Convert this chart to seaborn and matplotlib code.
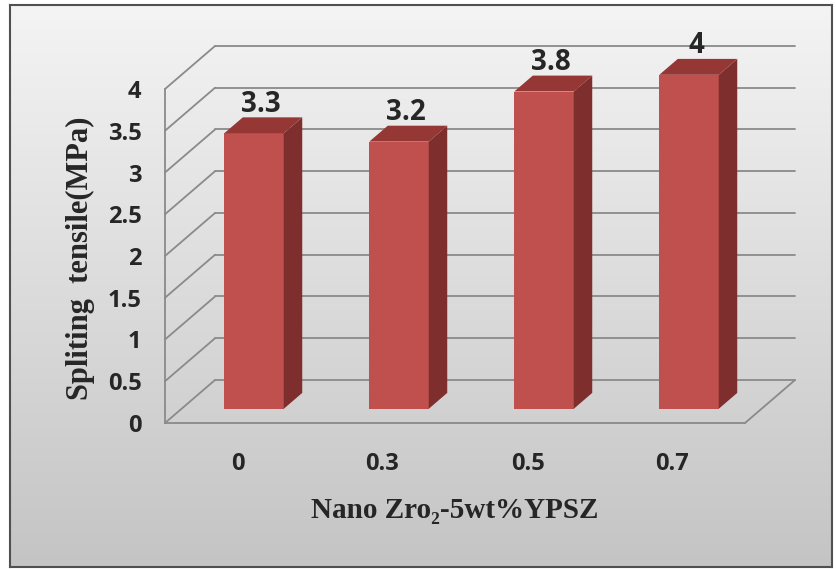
import numpy as np
import matplotlib
matplotlib.use("Agg")
import matplotlib.pyplot as plt
from matplotlib.patches import Polygon
from matplotlib.colors import LinearSegmentedColormap
import seaborn as sns

# data
categories = ["0", "0.3", "0.5", "0.7"]
values = [3.3, 3.2, 3.8, 4.0]
value_labels = ["3.3", "3.2", "3.8", "4"]
y_ticks = [0, 0.5, 1, 1.5, 2, 2.5, 3, 3.5, 4]
y_tick_labels = ["0", "0.5", "1", "1.5", "2", "2.5", "3", "3.5", "4"]

sns.set_style("white")
plt.rcParams["font.family"] = ["Open Sans", "DejaVu Sans"]

FRONT = "#c0504d"
SIDE = "#7e2f2d"
TOP = "#953735"
GRID = "#8a8a8a"

# fake 3D depth (full wall depth, in data units) and where the bars sit in it
DX, DY = 0.345, 0.515
F1, F2 = 0.33, 0.70

fig = plt.figure(figsize=(8.36, 5.69), dpi=100)

# gradient background with a frame
bg = fig.add_axes([10 / 836, 2 / 569, 822 / 836, 562 / 569], zorder=0)
grad = np.linspace(0, 1, 256).reshape(-1, 1)
cmap = LinearSegmentedColormap.from_list("bg", ["#f4f4f4", "#c4c4c4"])
bg.imshow(grad, aspect="auto", cmap=cmap, extent=[0, 1, 0, 1], origin="upper")
bg.set_xticks([])
bg.set_yticks([])
for s in bg.spines.values():
    s.set_color("#505050")
    s.set_linewidth(1.5)

ax = fig.add_axes([165 / 836, 146 / 569, 580 / 836, 334 / 569], zorder=1)
ax.set_facecolor("none")

# back wall, side wall and floor lines
for v in y_ticks:
    ax.plot([-0.5, -0.5 + DX], [v, v + DY], color=GRID, lw=1.3, clip_on=False, zorder=1)
    ax.plot([-0.5 + DX, 3.5 + DX], [v + DY, v + DY], color=GRID, lw=1.3, clip_on=False, zorder=1)
ax.plot([3.5, 3.5 + DX], [0, DY], color=GRID, lw=1.3, clip_on=False, zorder=1)

sns.barplot(x=categories, y=values, color=FRONT, saturation=1, width=0.41,
            ax=ax, zorder=3)

d = F2 - F1
for p, lab in zip(list(ax.patches), value_labels):
    p.set_x(p.get_x() + F1 * DX)
    p.set_y(p.get_y() + F1 * DY)
    p.set_linewidth(0)
    p.set_clip_on(False)
    x0, y0 = p.get_x(), p.get_y()
    x1, y1 = x0 + p.get_width(), y0 + p.get_height()
    side = Polygon([(x1, y0), (x1 + d * DX, y0 + d * DY),
                    (x1 + d * DX, y1 + d * DY), (x1, y1)],
                   closed=True, facecolor=SIDE, edgecolor="none", zorder=3, clip_on=False)
    top = Polygon([(x0, y1), (x0 + d * DX, y1 + d * DY),
                   (x1 + d * DX, y1 + d * DY), (x1, y1)],
                  closed=True, facecolor=TOP, edgecolor="none", zorder=3, clip_on=False)
    ax.add_patch(side)
    ax.add_patch(top)
    ax.annotate(lab, ((x0 + x1) / 2 + 0.05, y1 + d * DY), xytext=(0, -1),
                textcoords="offset points", ha="center", va="bottom",
                fontsize=20, fontweight="bold", annotation_clip=False)

ax.set_xlim(-0.5, 3.5)
ax.set_ylim(0, 4)
ax.set_yticks(y_ticks, y_tick_labels)
ax.set_xticks(range(len(categories)), categories)
ax.set_xticks(np.arange(-0.5, 4, 1), minor=True)
ax.tick_params(axis="x", which="major", length=0, pad=21, labelsize=17)
ax.tick_params(axis="x", which="minor", length=6, width=1.2, color=GRID, direction="out")
ax.tick_params(axis="y", length=6, width=1.2, color=GRID, direction="out", pad=11, labelsize=17)
for t in ax.get_xticklabels() + ax.get_yticklabels():
    t.set_fontweight("bold")
ax.set_xlabel("")
ax.set_ylabel("")
for side_name in ["top", "right"]:
    ax.spines[side_name].set_visible(False)
for side_name in ["left", "bottom"]:
    ax.spines[side_name].set_color(GRID)
    ax.spines[side_name].set_linewidth(1.3)

fig.text(80 / 836, 1 - 258 / 569, "Spliting  tensile(MPa)", rotation=90,
         ha="center", va="center", fontsize=22, fontweight="bold",
         family=["Liberation Serif", "DejaVu Serif"])
fig.text(455 / 836, 1 - 510 / 569, "Nano Zro\u2082-5wt%YPSZ",
         ha="center", va="center", fontsize=21, fontweight="bold",
         family=["Liberation Serif", "DejaVu Serif"])

fig.savefig("out.png", dpi=100)
